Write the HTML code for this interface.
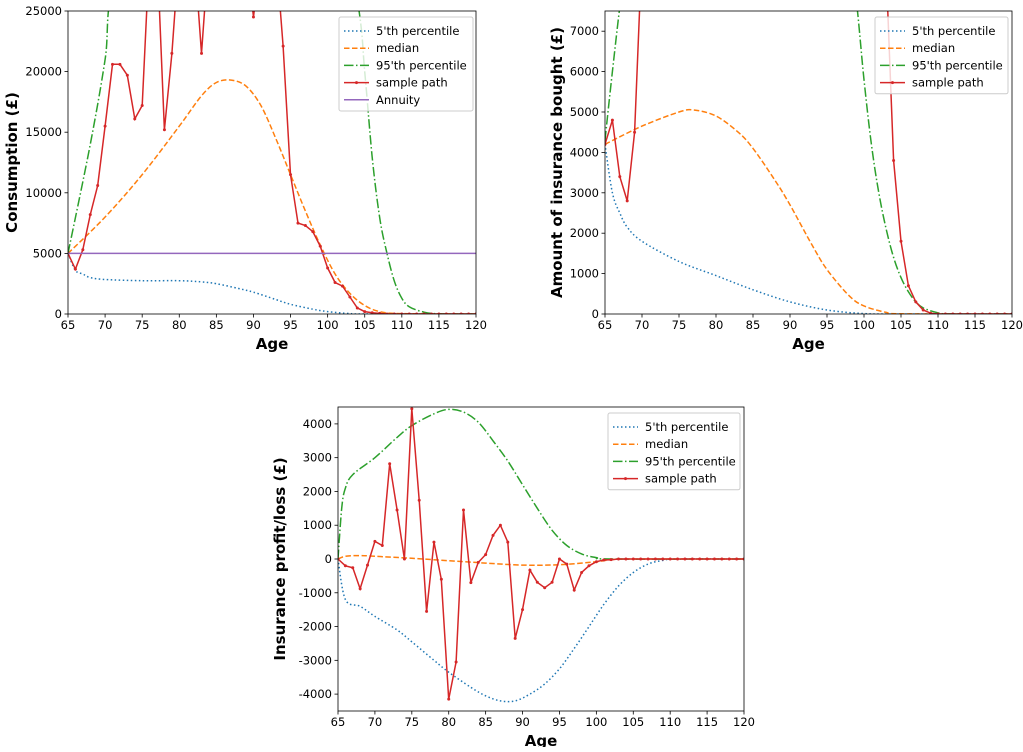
<!DOCTYPE html>
<html><head><meta charset="utf-8"><style>
body{margin:0;background:#fff;}
svg{font-family:"DejaVu Sans","Liberation Sans",sans-serif;}
</style></head><body>
<svg id="s" width="1023" height="747"></svg>
<script>
// ---- Chart 1: consumption ----
const c1p5Age=[65,66,67,68,70,75,80,83,85,88,90,93,95,98,100,103,105,120];
const c1p5Val=[5000,3600,3300,3000,2850,2750,2750,2650,2500,2100,1800,1200,800,400,200,30,0,0];
const c1medAge=[65,70,75,80,83,85,87,89,91,93,95,97,99,101,103,105,107,110,120];
const c1medVal=[5000,8000,11500,15500,18000,19100,19300,18800,17200,14500,11500,8500,5700,3300,1700,700,200,30,0];
const c1p95Age=[65,68,70,71.5,80,100,104,105,106,107,108,109,110,111,113,115,120];
const c1p95Val=[5000,14000,21000,28000,40000,40000,26000,20000,13000,8000,5000,2700,1300,600,150,20,0];
const c1sample=[5000,3700,5300,8200,10600,15500,20600,20600,19700,16100,17200,30000,30000,15200,21500,30000,30000,30000,21500,30000,30000,30000,30000,30000,30000,24500,30000,30000,30000,22100,11500,7500,7300,6800,5600,3800,2600,2300,1400,500,200,100,50,0,0,0,0,0,0,0,0,0,0,0,0,0];
const c1annuity=5000;
const c1yTicks=[0,5000,10000,15000,20000,25000];
// ---- Chart 2: insurance bought ----
const c2p5Age=[65,66,67,68,70,75,80,85,90,95,100,105,120];
const c2p5Val=[4200,3000,2500,2150,1800,1300,950,600,300,100,10,0,0];
const c2medAge=[65,70,75,77,80,83,85,88,90,93,95,98,100,103,105,120];
const c2medVal=[4200,4650,5000,5050,4900,4500,4100,3300,2700,1700,1100,450,200,40,5,0];
const c2p95Age=[65,66,67,68,80,98,99,100,101,102,103,104,105,106,107,108,110,112,120];
const c2p95Val=[4300,6000,7600,9000,12000,9000,7700,5800,4200,3000,2100,1400,900,550,300,150,30,0,0];
const c2sample=[4200,4800,3400,2800,4500,9000,9000,9000,9000,9000,9000,9000,9000,9000,9000,9000,9000,9000,9000,9000,9000,9000,9000,9000,9000,9000,9000,9000,9000,9000,9000,9000,9000,9000,9000,9000,9000,9000,8500,3800,1800,700,300,100,20,0,0,0,0,0,0,0,0,0,0,0];
const c2yTicks=[0,1000,2000,3000,4000,5000,6000,7000];
// ---- Chart 3: profit/loss ----
const c3p5Age=[65,66,68,70,73,75,78,80,83,85,87,89,91,93,95,97,99,101,103,105,107,109,111,120];
const c3p5Val=[0,-1200,-1400,-1700,-2100,-2450,-3000,-3350,-3800,-4050,-4200,-4200,-4000,-3700,-3250,-2650,-2000,-1350,-800,-400,-150,-40,0,0];
const c3medAge=[65,66,68,70,75,80,85,90,95,100,102,105,120];
const c3medVal=[0,80,100,80,20,-50,-120,-180,-170,-80,-20,0,0];
const c3p95Age=[65,65.5,66,67,70,73,75,78,80,82,84,86,88,90,92,94,96,98,100,102,120];
const c3p95Val=[0,1500,2100,2500,3000,3600,3950,4300,4430,4350,4050,3500,2900,2200,1500,850,400,150,40,0,0];
const c3sample=[0,-200,-260,-880,-180,520,400,2820,1450,0,4450,1740,-1550,500,-600,-4150,-3050,1450,-700,-100,130,700,1000,500,-2350,-1500,-330,-690,-850,-690,0,-150,-920,-400,-200,-80,-30,-20,0,0,0,0,0,0,0,0,0,0,0,0,0,0,0,0,0,0];
const c3yTicks=[-4000,-3000,-2000,-1000,0,1000,2000,3000,4000];
const xTicks=[65,70,75,80,85,90,95,100,105,110,115,120];

const NS='http://www.w3.org/2000/svg';
const svg=document.getElementById('s');
function mk(tag,attrs,parent){const e=document.createElementNS(NS,tag);for(const k in attrs)e.setAttribute(k,attrs[k]);(parent||svg).appendChild(e);return e;}
const BLUE='#1f77b4',ORANGE='#ff7f0e',GREEN='#2ca02c',RED='#d62728',PURPLE='#9467bd';
function smoothPath(P){
  let d='M'+P[0][0].toFixed(1)+','+P[0][1].toFixed(1);
  for(let i=0;i<P.length-1;i++){
    const p0=P[Math.max(0,i-1)],p1=P[i],p2=P[i+1],p3=P[Math.min(P.length-1,i+2)];
    const c1x=p1[0]+(p2[0]-p0[0])/6,c1y=p1[1]+(p2[1]-p0[1])/6;
    const c2x=p2[0]-(p3[0]-p1[0])/6,c2y=p2[1]-(p3[1]-p1[1])/6;
    d+=' C'+c1x.toFixed(1)+','+c1y.toFixed(1)+' '+c2x.toFixed(1)+','+c2y.toFixed(1)+' '+p2[0].toFixed(1)+','+p2[1].toFixed(1);
  }
  return d;
}
function chart(id,L,T,R,B,ymin,ymax,yTicks,ylabel,series,legend,leg){
  const g=mk('g',{});
  
  
  const sx=a=>L+(a-65)/(120-65)*(R-L);
  const sy=v=>B-(v-ymin)/(ymax-ymin)*(B-T);
  const cp=mk('clipPath',{id:id+'-clip'},g);mk('rect',{x:L,y:T,width:R-L,height:B-T},cp);
  const pg=mk('g',{'clip-path':'url(#'+id+'-clip)'},g);
  series.forEach(s=>{
    const P=s.ages.map((a,i)=>[sx(a),sy(s.vals[i])]);
    let pl;
    if(s.smooth){pl=mk('path',{d:smoothPath(P),fill:'none',stroke:s.color,'stroke-width':1.5,'stroke-dasharray':s.dash||''},pg);}
    else{pl=mk('polyline',{points:P.map(p=>p[0].toFixed(1)+','+p[1].toFixed(1)).join(' '),fill:'none',stroke:s.color,'stroke-width':1.5,'stroke-dasharray':s.dash||''},pg);}
    
    
    if(s.markers){s.ages.forEach((a,i)=>{const c=mk('circle',{cx:sx(a),cy:sy(s.vals[i]),r:1.5,fill:s.color},pg);
      
      });}
  });
  mk('rect',{x:L,y:T,width:R-L,height:B-T,fill:'none',stroke:'#000','stroke-width':0.8},g);
  xTicks.forEach(t=>{const x=sx(t);mk('line',{x1:x,x2:x,y1:B,y2:B+3.5,stroke:'#000','stroke-width':0.8},g);
    const tx=mk('text',{x:x,y:B+15,'text-anchor':'middle','font-size':11.5},g);tx.textContent=t;
    
    });
  yTicks.forEach(t=>{const y=sy(t);mk('line',{x1:L-3.5,x2:L,y1:y,y2:y,stroke:'#000','stroke-width':0.8},g);
    const tx=mk('text',{x:L-6,y:y+4,'text-anchor':'end','font-size':11.5},g);tx.textContent=t;
    
    });
  const xl=mk('text',{x:(L+R)/2,y:B+35,'text-anchor':'middle','font-size':15,'font-weight':'bold'},g);xl.textContent='Age';
  
  
  const yx=ylabel.x;
  const yl=mk('text',{x:yx,y:(T+B)/2,'text-anchor':'middle','font-size':15,'font-weight':'bold',transform:'rotate(-90 '+yx+' '+(T+B)/2+')'},g);yl.textContent=ylabel.t;
  
  
  const lg=mk('g',{},g);
  
  
  mk('rect',{x:leg.x,y:leg.y,width:leg.w,height:8+legend.length*17.2,fill:'#fff','fill-opacity':0.8,stroke:'#ccc',rx:2},lg);
  legend.forEach((s,i)=>{const y=leg.y+14+i*17.2;
    mk('line',{x1:leg.x+5,x2:leg.x+30,y1:y,y2:y,stroke:s.color,'stroke-width':1.5,'stroke-dasharray':s.dash||''},lg);
    if(s.markers)mk('circle',{cx:leg.x+17.5,cy:y,r:1.5,fill:s.color},lg);
    const t=mk('text',{x:leg.x+37,y:y+4,'font-size':11.5},lg);t.textContent=s.label;
    
    });
}
const ages=c1sample.map((_,i)=>65+i);
const s1=[
 {name:'p5-line',label:"5'th percentile",ages:c1p5Age,vals:c1p5Val,color:BLUE,dash:'1.5,2.5',smooth:true},
 {name:'median-line',label:'median',ages:c1medAge,vals:c1medVal,color:ORANGE,dash:'5.5,2.5',smooth:true},
 {name:'p95-line',label:"95'th percentile",ages:c1p95Age,vals:c1p95Val,color:GREEN,dash:'9.5,2.5,1.5,2.5',smooth:true},
 {name:'sample-path',label:'sample path',ages:ages,vals:c1sample,color:RED,markers:true},
 {name:'annuity-line',label:'Annuity',ages:[65,120],vals:[c1annuity,c1annuity],color:PURPLE}];
chart('consumption-chart',68,11,476,314,0,25000,c1yTicks,{x:17,t:'Consumption (£)'},s1,s1,{x:339,y:17,w:134});
const s2=[
 {name:'p5-line',label:"5'th percentile",ages:c2p5Age,vals:c2p5Val,color:BLUE,dash:'1.5,2.5',smooth:true},
 {name:'median-line',label:'median',ages:c2medAge,vals:c2medVal,color:ORANGE,dash:'5.5,2.5',smooth:true},
 {name:'p95-line',label:"95'th percentile",ages:c2p95Age,vals:c2p95Val,color:GREEN,dash:'9.5,2.5,1.5,2.5',smooth:true},
 {name:'sample-path',label:'sample path',ages:ages,vals:c2sample,color:RED,markers:true}];
chart('insurance-bought-chart',605,11,1012,314,0,7500,c2yTicks,{x:562,t:'Amount of insurance bought (£)'},s2,s2,{x:875,y:17,w:133});
const s3=[
 {name:'p5-line',label:"5'th percentile",ages:c3p5Age,vals:c3p5Val,color:BLUE,dash:'1.5,2.5',smooth:true},
 {name:'median-line',label:'median',ages:c3medAge,vals:c3medVal,color:ORANGE,dash:'5.5,2.5',smooth:true},
 {name:'p95-line',label:"95'th percentile",ages:c3p95Age,vals:c3p95Val,color:GREEN,dash:'9.5,2.5,1.5,2.5',smooth:true},
 {name:'sample-path',label:'sample path',ages:ages,vals:c3sample,color:RED,markers:true}];
chart('profit-loss-chart',338,407,744,711,-4500,4500,c3yTicks,{x:285,t:'Insurance profit/loss (£)'},s3,s3,{x:608,y:413,w:132});
</script>
</body></html>
